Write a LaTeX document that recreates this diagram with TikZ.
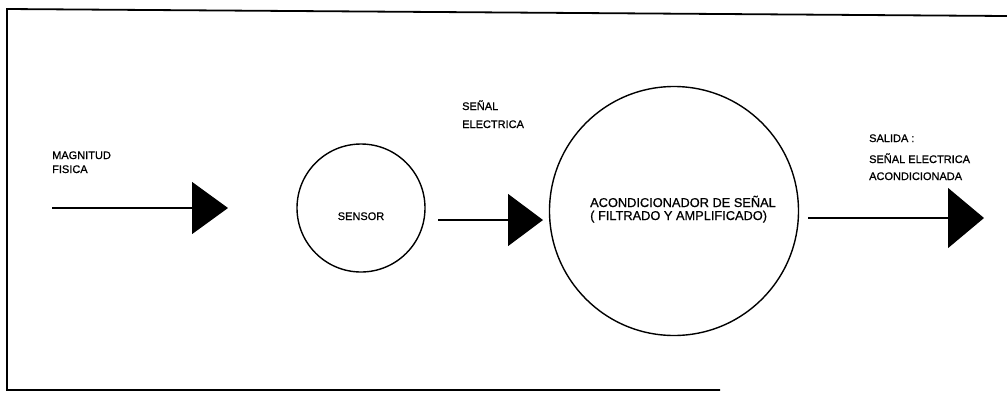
\documentclass[tikz,border=0pt]{standalone}
\usepackage{fontspec}
\setmainfont{Liberation Sans}[FakeBold=0.8]
\usetikzlibrary{arrows.meta}
\tikzset{
  lbl/.style={anchor=base west, inner sep=0pt, font=\fontsize{11}{13}\selectfont},
  biglbl/.style={lbl, font=\fontsize{12.8}{14}\selectfont},
  blockc/.style={draw, circle, line width=1.4pt, inner sep=0pt},
  flow/.style={line width=1.3pt},
  framel/.style={line width=1.8pt}
}
\begin{document}
\begin{tikzpicture}[x=1pt,y=-1pt]
\useasboundingbox (0,0) rectangle (1007,392);
% frame
\coordinate (fbl) at (7,390);
\coordinate (ftl) at (7,9);
\coordinate (ftr) at (1007,16);
\coordinate (fbr) at (720,390);
\draw[framel] (fbr) -- (fbl) -- (ftl) -- (ftr);
% blocks
\node[blockc, minimum size=128pt] (sensor) at (361,208) {};
\node[blockc, minimum size=249pt] (acond) at (674,211) {};
% texts
\node[lbl] (mag1) at (52,159) {MAGNITUD};
\node[lbl] (mag2) at (52,173) {FISICA};
\node[lbl, anchor=base] (sens) at (361,220) {SENSOR};
\node[biglbl] (ac1) at (590,207) {ACONDICIONADOR DE SEÑAL};
\node[biglbl] (ac2) at (590,220) {( FILTRADO Y AMPLIFICADO)};
\node[lbl] (se1) at (462,110) {SEÑAL};
\node[lbl] (se2) at (462,128) {ELECTRICA};
\node[lbl] (sa1) at (869,142) {SALIDA :};
\node[lbl] (sa2) at (869,163) {SEÑAL ELECTRICA};
\node[lbl] (sa3) at (869,180) {ACONDICIONADA};
% arrows
\coordinate (a1s) at (52,208);
\coordinate (a1e) at (228,208);
\coordinate (a2s) at (438,220);
\coordinate (a2e) at (543,220);
\coordinate (a3s) at (808,218);
\coordinate (a3e) at (984,218);
\draw[flow, -{Triangle[length=36pt,width=52pt]}] (a1s) -- (a1e);
\draw[flow, -{Triangle[length=35pt,width=52pt]}] (a2s) -- (a2e);
\draw[flow, -{Triangle[length=36pt,width=60pt]}] (a3s) -- (a3e);
\end{tikzpicture}
\end{document}
